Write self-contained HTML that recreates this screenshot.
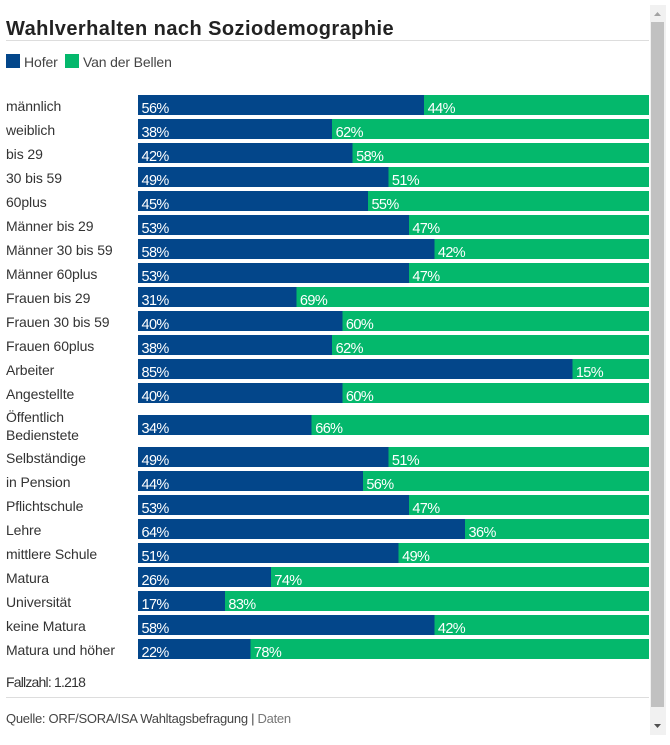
<!DOCTYPE html>
<html lang="de">
<head>
<meta charset="utf-8">
<title>Wahlverhalten nach Soziodemographie</title>
<style>
html,body{margin:0;padding:0;background:#fff;width:670px;height:745px;overflow:hidden}
svg{display:block;font-family:"Liberation Sans",sans-serif}
.row-label{font-size:14px;fill:#333;letter-spacing:-.1px}
.pct{font-size:14.5px;fill:#fff;letter-spacing:-.6px}
rect{shape-rendering:crispEdges}
</style>
</head>
<body>
<svg id="chart" width="670" height="745" viewBox="0 0 670 745" xmlns="http://www.w3.org/2000/svg">
  <text x="6" y="35" font-size="20" font-weight="700" fill="#222" letter-spacing=".44">Wahlverhalten nach Soziodemographie</text>
  <rect x="6" y="40" width="643" height="1" fill="#ddd"/>
  <g>
    <rect x="6" y="54" width="14" height="14" fill="#03468a"/>
    <text x="24" y="67" font-size="14" fill="#444" letter-spacing="-.1">Hofer</text>
    <rect x="65" y="54" width="14" height="14" fill="#04b86c"/>
    <text x="83" y="67" font-size="14" fill="#444" letter-spacing="-.15">Van der Bellen</text>
  </g>
  <g id="rows"></g>
  <text x="6" y="687" font-size="14" fill="#333" letter-spacing="-.8">Fallzahl: 1.218</text>
  <rect x="6" y="697" width="643" height="1" fill="#ddd"/>
  <text x="6" y="723" font-size="13" fill="#444" letter-spacing="-.28">Quelle: ORF/SORA/ISA Wahltagsbefragung | <tspan fill="#777">Daten</tspan></text>
  <g>
    <rect x="650" y="5" width="16" height="730" fill="#f1f1f1"/>
    <rect x="651" y="22" width="13" height="685" fill="#c1c1c1"/>
    <polygon points="654,16 661,16 657.5,12" fill="#a3a3a3"/>
    <polygon points="654,724 661,724 657.5,728" fill="#505050"/>
  </g>
</svg>
<script>
const categories = ["männlich","weiblich","bis 29","30 bis 59","60plus","Männer bis 29","Männer 30 bis 59","Männer 60plus","Frauen bis 29","Frauen 30 bis 59","Frauen 60plus","Arbeiter","Angestellte","Öffentlich\nBedienstete","Selbständige","in Pension","Pflichtschule","Lehre","mittlere Schule","Matura","Universität","keine Matura","Matura und höher"];
const hofer = [56,38,42,49,45,53,58,53,31,40,38,85,40,34,49,44,53,64,51,26,17,58,22];
const vanDerBellen = [44,62,58,51,55,47,42,47,69,60,62,15,60,66,51,56,47,36,49,74,83,42,78];

const NS = "http://www.w3.org/2000/svg";
const plotLeft = 138, plotRight = 649;
function xScale(v){ return plotLeft + (plotRight - plotLeft) * v / 100; }
function svgEl(tag, attrs, parent){
  const el = document.createElementNS(NS, tag);
  for (const k in attrs) el.setAttribute(k, attrs[k]);
  parent.appendChild(el);
  return el;
}
const rowsGroup = document.getElementById("rows");
let rowTop = 95;
categories.forEach(function(label, i){
  const multi = label.includes("\n");
  if (multi) rowTop += 8;
  const g = svgEl("g", {}, rowsGroup);
  
  

  const lab = svgEl("text", {x: 6, "class": "row-label"}, g);
  
  
  if (multi) {
    label.split("\n").forEach(function(part, j){
      const t = svgEl("tspan", {x: 6, y: rowTop + 7 + j * 18}, lab);
      t.textContent = part;
    });
  } else {
    lab.setAttribute("y", rowTop + 16);
    lab.textContent = label;
  }

  const xSplit = xScale(hofer[i]);
  const xEnd = xScale(hofer[i] + vanDerBellen[i]);
  const b1 = svgEl("rect", {x: plotLeft, y: rowTop, width: xSplit - plotLeft, height: 20, fill: "#03468a"}, g);
  
  
  const b2 = svgEl("rect", {x: xSplit, y: rowTop, width: xEnd - xSplit, height: 20, fill: "#04b86c"}, g);
  
  

  const t1 = svgEl("text", {x: plotLeft + 3.5, y: rowTop + 18, "class": "pct"}, g);
  
  
  t1.textContent = hofer[i] + "%";
  const t2 = svgEl("text", {x: xSplit + 3.5, y: rowTop + 18, "class": "pct"}, g);
  
  
  t2.textContent = vanDerBellen[i] + "%";

  rowTop += multi ? 32 : 24;
});
</script>
</body>
</html>
